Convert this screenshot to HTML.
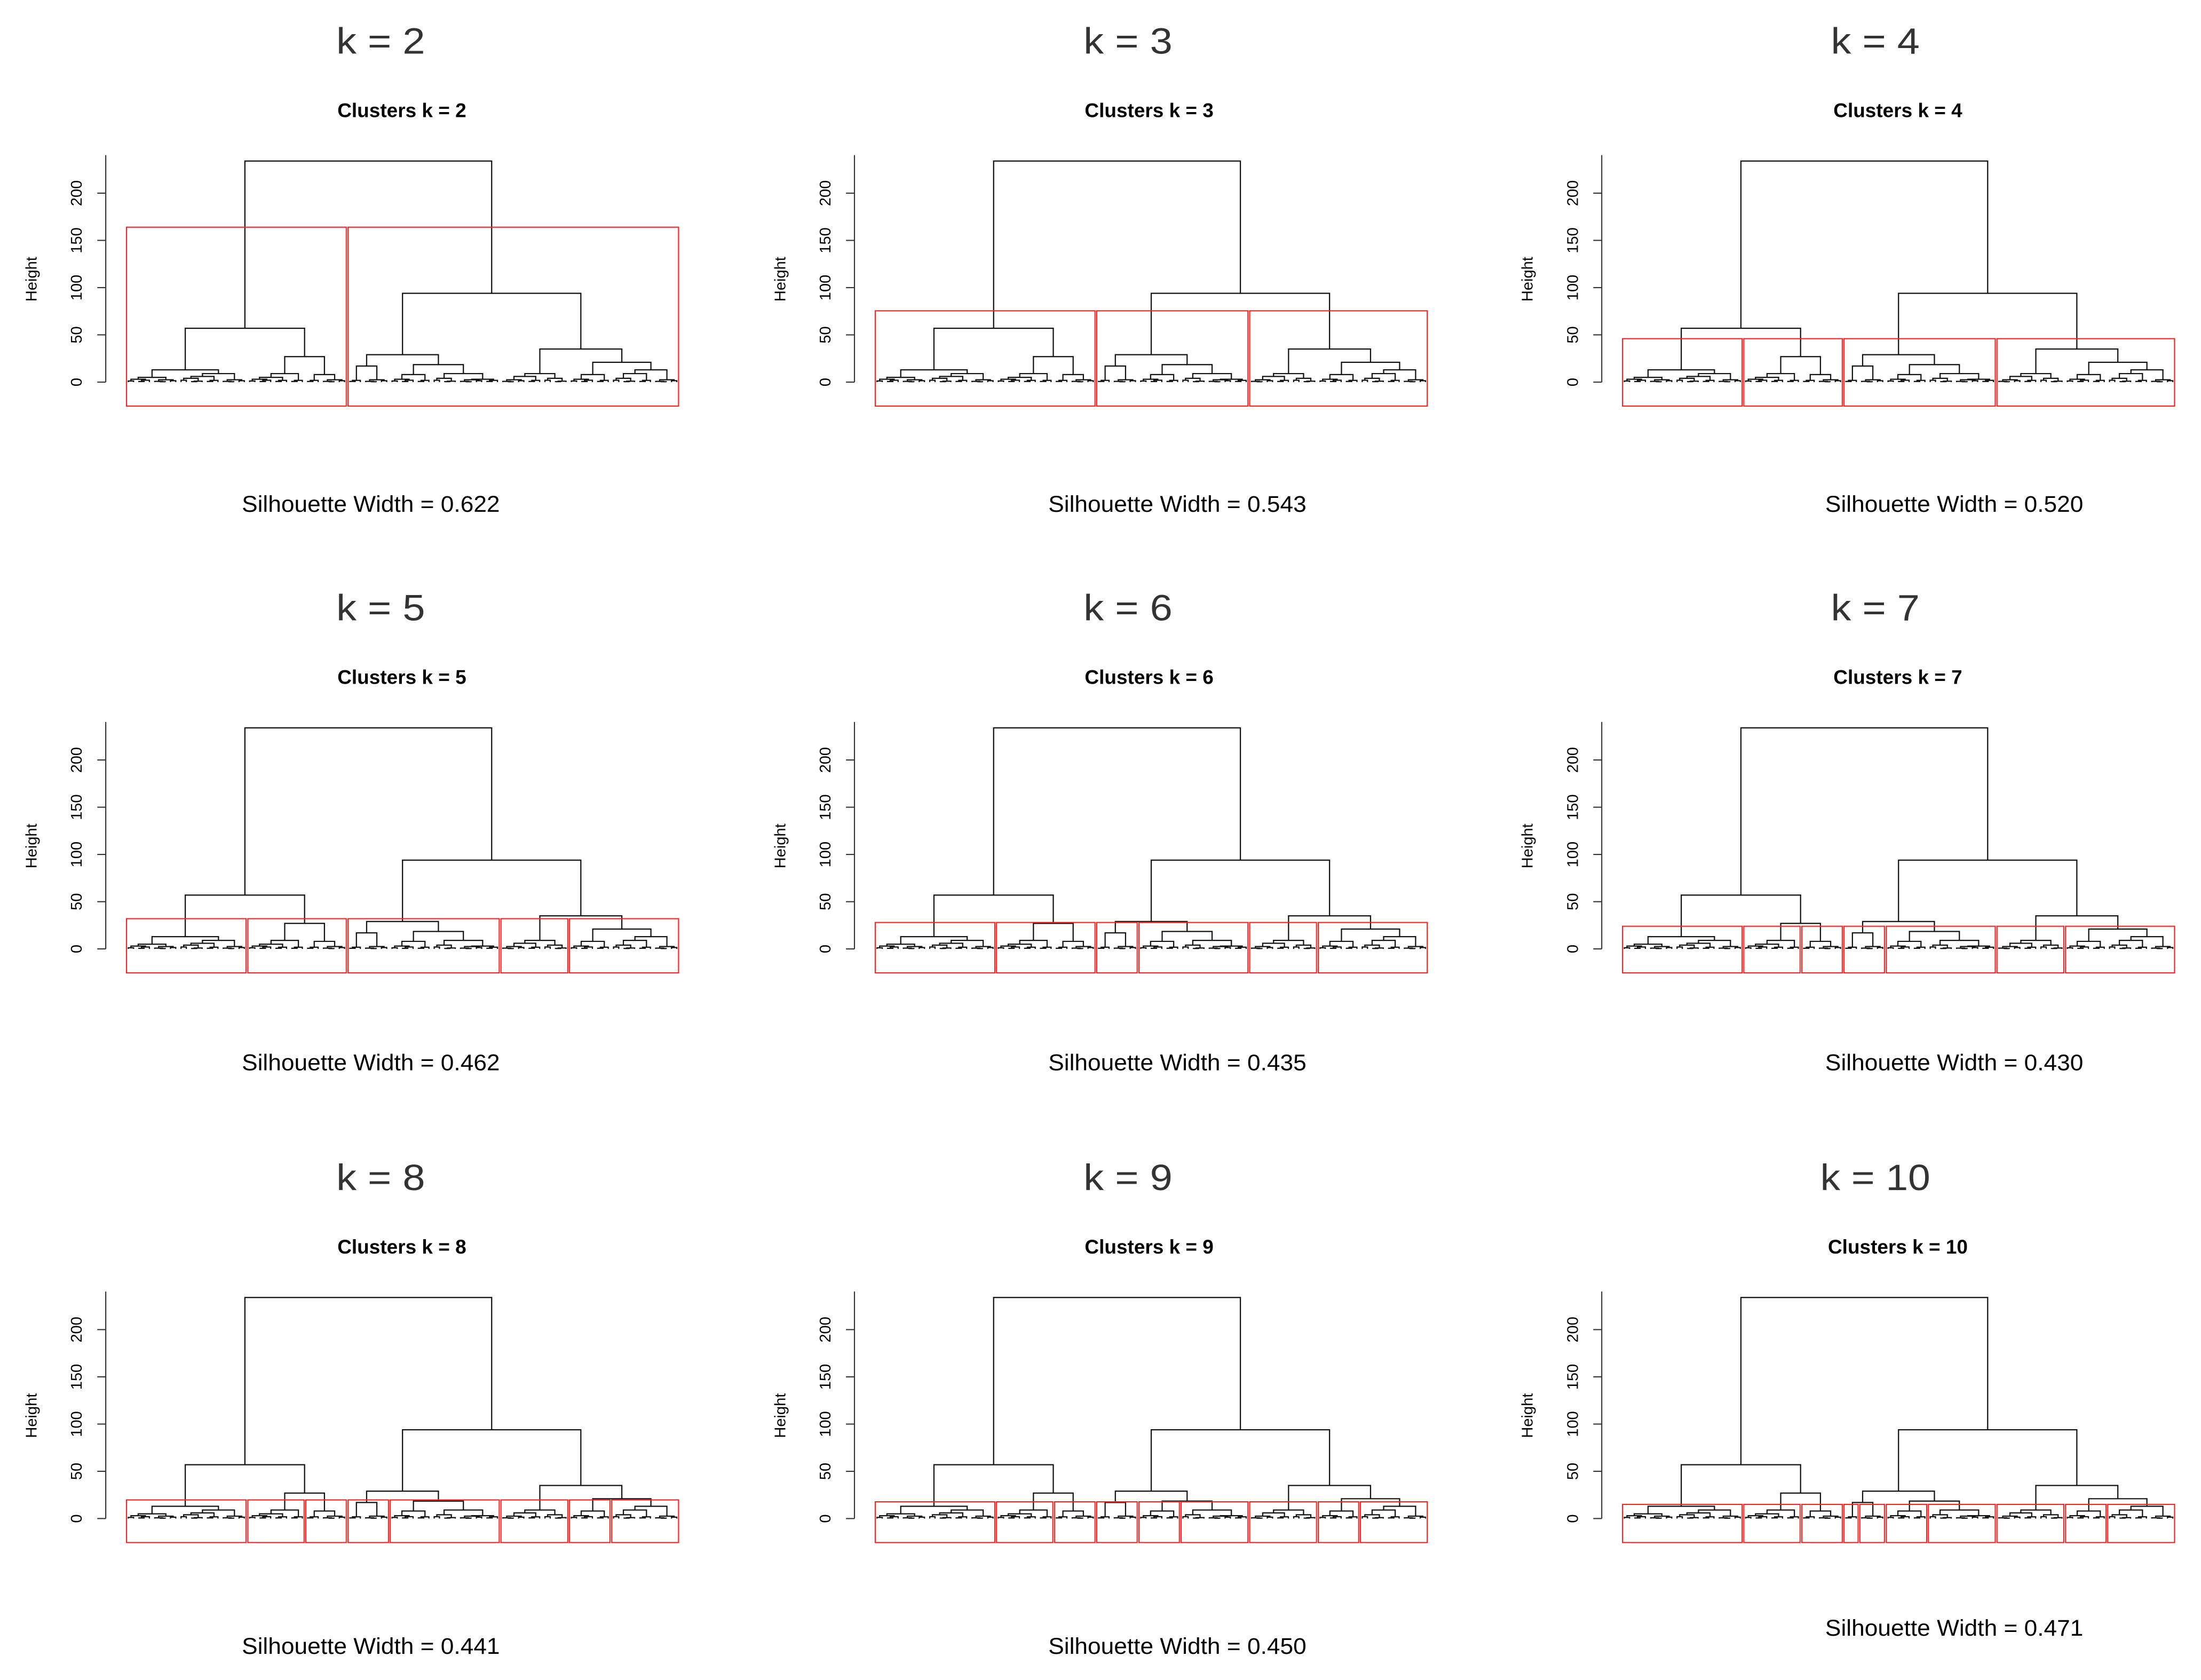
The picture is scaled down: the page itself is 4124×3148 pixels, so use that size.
<!DOCTYPE html>
<html><head><meta charset="utf-8"><style>
html,body{margin:0;padding:0;background:#fff;}
svg{display:block;}
</style></head><body>
<svg id="fig" width="4124" height="3148" viewBox="0 0 1561 1191.5" preserveAspectRatio="none" xmlns="http://www.w3.org/2000/svg"></svg>
<script>
// ---- data ----
const kValues = [2,3,4,5,6,7,8,9,10];
const silhouetteValues = ["0.622","0.543","0.520","0.462","0.435","0.430","0.441","0.450","0.471"];
const yTicks = [0,50,100,150,200];
// dendrogram (node = [height, left, right], leaf = 0)
const twigA=[3,[1.2,0,0],[2,[0.6,0,0],0]];
const twigB=[2.5,[0.8,0,[0.4,0,0]],[1.5,0,0]];
const twigC=[4,[2,0,0],[1,[0.5,0,0],0]];
const twigD=[1.8,[0.7,0,0],0];
const A=[13,[5,twigA,twigB],[9,[6,twigC,twigD],twigB]];
const B=[27,[9,[5,twigA,twigD],twigD],[8,twigD,twigB]];
const C=[29,[17,twigD,twigB],[18.5,[8,twigA,twigD],[9,twigC,[3,twigB,twigD]]]];
const D=[35,[9,[6,twigB,twigD],twigC],[21,[8,twigA,twigD],[13,[9,twigC,twigD],twigB]]];
const tree=[234,[57,A,B],[94,C,D]];

// ---- drawing ----
const NS="http://www.w3.org/2000/svg";
const svg=document.getElementById('fig');
function mk(tag,attrs,parent){const e=document.createElementNS(NS,tag);for(const k in attrs)e.setAttribute(k,attrs[k]);(parent||svg).appendChild(e);return e;}

function countLeaves(n){return n===0?1:countLeaves(n[1])+countLeaves(n[2]);}
const nLeaves=countLeaves(tree);
const allHeights=[];
(function col(n){if(n===0)return;allHeights.push(n[0]);col(n[1]);col(n[2]);})(tree);
allHeights.sort((a,b)=>b-a);

const colOff=[0,531,1061], rowOff=[0,402,806];
const titleX=[270,800,1330], clusX=[285,815,1346], silX=[263,835,1386];

kValues.forEach((k,i)=>{
  const c=i%3,r=Math.floor(i/3),dx=colOff[c],dy=rowOff[r];
  const g=mk('g',{});
  
  
  const x0=91+dx, x1=480+dx, sp=(x1-x0)/(nLeaves-1);
  const yZero=271+dy, unit=33.5/50;
  const xs=idx=>x0+idx*sp, ys=h=>yZero-h*unit;

  let t=mk('text',{x:titleX[c],y:38+dy,'text-anchor':'middle','font-family':'Liberation Sans, sans-serif','font-size':26,fill:'#333',textLength:63,lengthAdjust:'spacingAndGlyphs'},g);
  t.textContent='k = '+k;
  
  
  if(k===10) t.setAttribute('textLength',78);

  t=mk('text',{x:clusX[c],y:83+dy,'text-anchor':'middle','font-family':'Liberation Sans, sans-serif','font-size':14,'font-weight':'bold',fill:'#000'},g);
  t.textContent='Clusters k = '+k;
  
  

  const ax=mk('g',{stroke:'#333','stroke-width':0.8,fill:'none'},g);
  
  
  mk('line',{x1:75+dx,y1:110+dy,x2:75+dx,y2:yZero},ax);
  yTicks.forEach(v=>{
    const tk=mk('line',{x1:69+dx,y1:ys(v),x2:75+dx,y2:ys(v)},ax);
    
    
    const tl=mk('text',{x:0,y:0,transform:`translate(${58+dx},${ys(v)}) rotate(-90)`,'text-anchor':'middle','font-family':'Liberation Sans, sans-serif','font-size':11,fill:'#000'},g);
    tl.textContent=v;
    
    
  });
  t=mk('text',{x:0,y:0,transform:`translate(${26+dx},${198+dy}) rotate(-90)`,'text-anchor':'middle','font-family':'Liberation Sans, sans-serif','font-size':11,fill:'#000'},g);
  t.textContent='Height';
  
  

  const dg=mk('g',{stroke:'#111','stroke-width':0.85,fill:'none'},g);
  
  
  let leafIdx=0;
  function lay(n){
    if(n===0){const p={x:xs(leafIdx),h:0,lo:leafIdx,hi:leafIdx};leafIdx++;return p;}
    const a=lay(n[1]),b=lay(n[2]);
    const y=ys(n[0]);
    const p=mk('path',{d:`M${a.x},${ys(a.h)}V${y}H${b.x}V${ys(b.h)}`},dg);
    
    
    return {x:(a.x+b.x)/2,h:n[0],lo:a.lo,hi:b.hi,a:a,b:b};
  }
  const root=lay(tree);

  let clusters=[root];
  for(let s=0;s<k-1;s++){
    let bi=-1,bh=-1;
    clusters.forEach((cl,j)=>{if(cl.a&&cl.h>bh){bh=cl.h;bi=j;}});
    const cl=clusters[bi];
    clusters.splice(bi,1,cl.a,cl.b);
  }
  const topH=(allHeights[k-2]+allHeights[k-1])/2;
  const rg=mk('g',{stroke:'#ff2020','stroke-width':0.8,fill:'none'},g);
  
  
  clusters.forEach(cl=>{
    const rx=xs(cl.lo)-0.34*sp, rw=xs(cl.hi)+0.33*sp-rx;
    const rc=mk('rect',{x:rx,y:ys(topH),width:rw,height:288+dy-ys(topH)},rg);
    
    
  });

  t=mk('text',{x:silX[c],y:(k===10?1160:[363,759,1173][r]),'text-anchor':'middle','font-family':'Liberation Sans, sans-serif','font-size':16,fill:'#000',textLength:183,lengthAdjust:'spacingAndGlyphs'},g);
  t.textContent='Silhouette Width = '+silhouetteValues[i];
  
  
});
</script>
</body></html>
